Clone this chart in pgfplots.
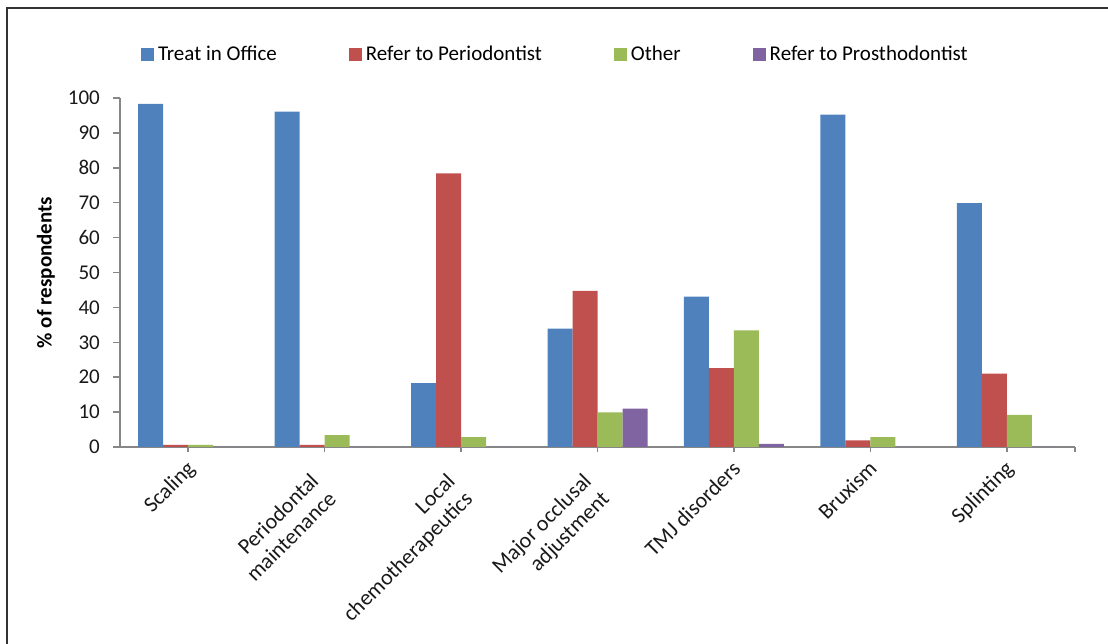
\documentclass[border=0pt]{standalone}
\usepackage{pgfplots}
\pgfplotsset{compat=1.18}
\usepackage{fontspec}
\setmainfont{Carlito}

\definecolor{cTreat}{HTML}{4F81BD}
\definecolor{cPerio}{HTML}{C0504D}
\definecolor{cOther}{HTML}{9BBB59}
\definecolor{cProst}{HTML}{8064A2}
\definecolor{axgray}{HTML}{878787}

% trailing gap that pulls two-line category labels back along the slant
\newcommand{\tl}{\hspace*{18pt}}

\begin{document}
\begin{tikzpicture}[x=1pt,y=1pt]
\useasboundingbox (0,0) rectangle (1108,644);
% outer chart frame (top and left edges)
\draw[line width=2.5pt, color=black!80] (7,0) -- (7,636) -- (1108,636);

\begin{axis}[
  at={(120pt,197pt)}, anchor=south west,
  scale only axis,
  width=955pt, height=349pt,
  ybar=0pt, bar width=25pt,
  xmin=-0.5, xmax=6.5,
  ymin=0, ymax=100,
  ytick={0,10,...,100},
  xtick={0,1,2,3,4,5,6},
  xticklabels={Scaling, Periodontal\tl\\maintenance\tl, Local\tl\\chemotherapeutics\tl, Major occlusal\tl\\adjustment\tl, TMJ disorders, Bruxism, Splinting},
  extra x ticks={6.5}, extra x tick labels={},
  axis x line*=bottom, axis y line*=left,
  axis line style={color=axgray, line width=1.5pt, -},
  tick style={color=axgray, line width=1.5pt},
  tick align=outside,
  major tick length=7pt,
  x tick style={/pgfplots/major tick length=5pt},
  font=\fontsize{21}{25}\selectfont,
  ticklabel style={font=\fontsize{21}{25}\selectfont, text=black!90},
  /pgf/number format/assume math mode=true,
  yticklabel style={inner sep=0pt, xshift=-13pt},
  xticklabel style={yshift=-5pt, xshift=-3pt, rotate=45, anchor=north east, align=right, inner sep=0pt,
    font=\fontsize{22}{25}\selectfont},
  ylabel={\bfseries \% of respondents},
  ylabel style={at={(axis description cs:-0.0775,0.5)}, anchor=center, font=\fontsize{21}{25}\selectfont},
  legend columns=4,
  legend cell align=left,
  legend style={draw=none, fill=none, at={(axis description cs:0.022,1.126)}, anchor=west,
    inner sep=0pt, outer sep=0pt,
    font=\fontsize{21}{25}\selectfont,
    nodes={inner sep=0pt},
    /tikz/every odd column/.style={column sep=4pt},
    /tikz/every even column/.style={column sep=72pt}},
  legend image code/.code={\fill[#1] (0pt,-6.5pt) rectangle (13pt,6.5pt);},
]
\addplot[fill=cTreat, draw=none] coordinates {(0,98.3) (1,96.1) (2,18.3) (3,33.9) (4,43.1) (5,95.2) (6,69.9)};
\addplot[fill=cPerio, draw=none] coordinates {(0,0.6) (1,0.6) (2,78.4) (3,44.7) (4,22.6) (5,1.9) (6,21.0)};
\addplot[fill=cOther, draw=none] coordinates {(0,0.6) (1,3.4) (2,2.8) (3,9.9) (4,33.4) (5,2.8) (6,9.2)};
\addplot[fill=cProst, draw=none] coordinates {(0,0) (1,0) (2,0) (3,11.0) (4,0.9) (5,0) (6,0)};
\legend{Treat in Office, Refer to Periodontist, Other, Refer to Prosthodontist}
\end{axis}
\end{tikzpicture}
\end{document}
